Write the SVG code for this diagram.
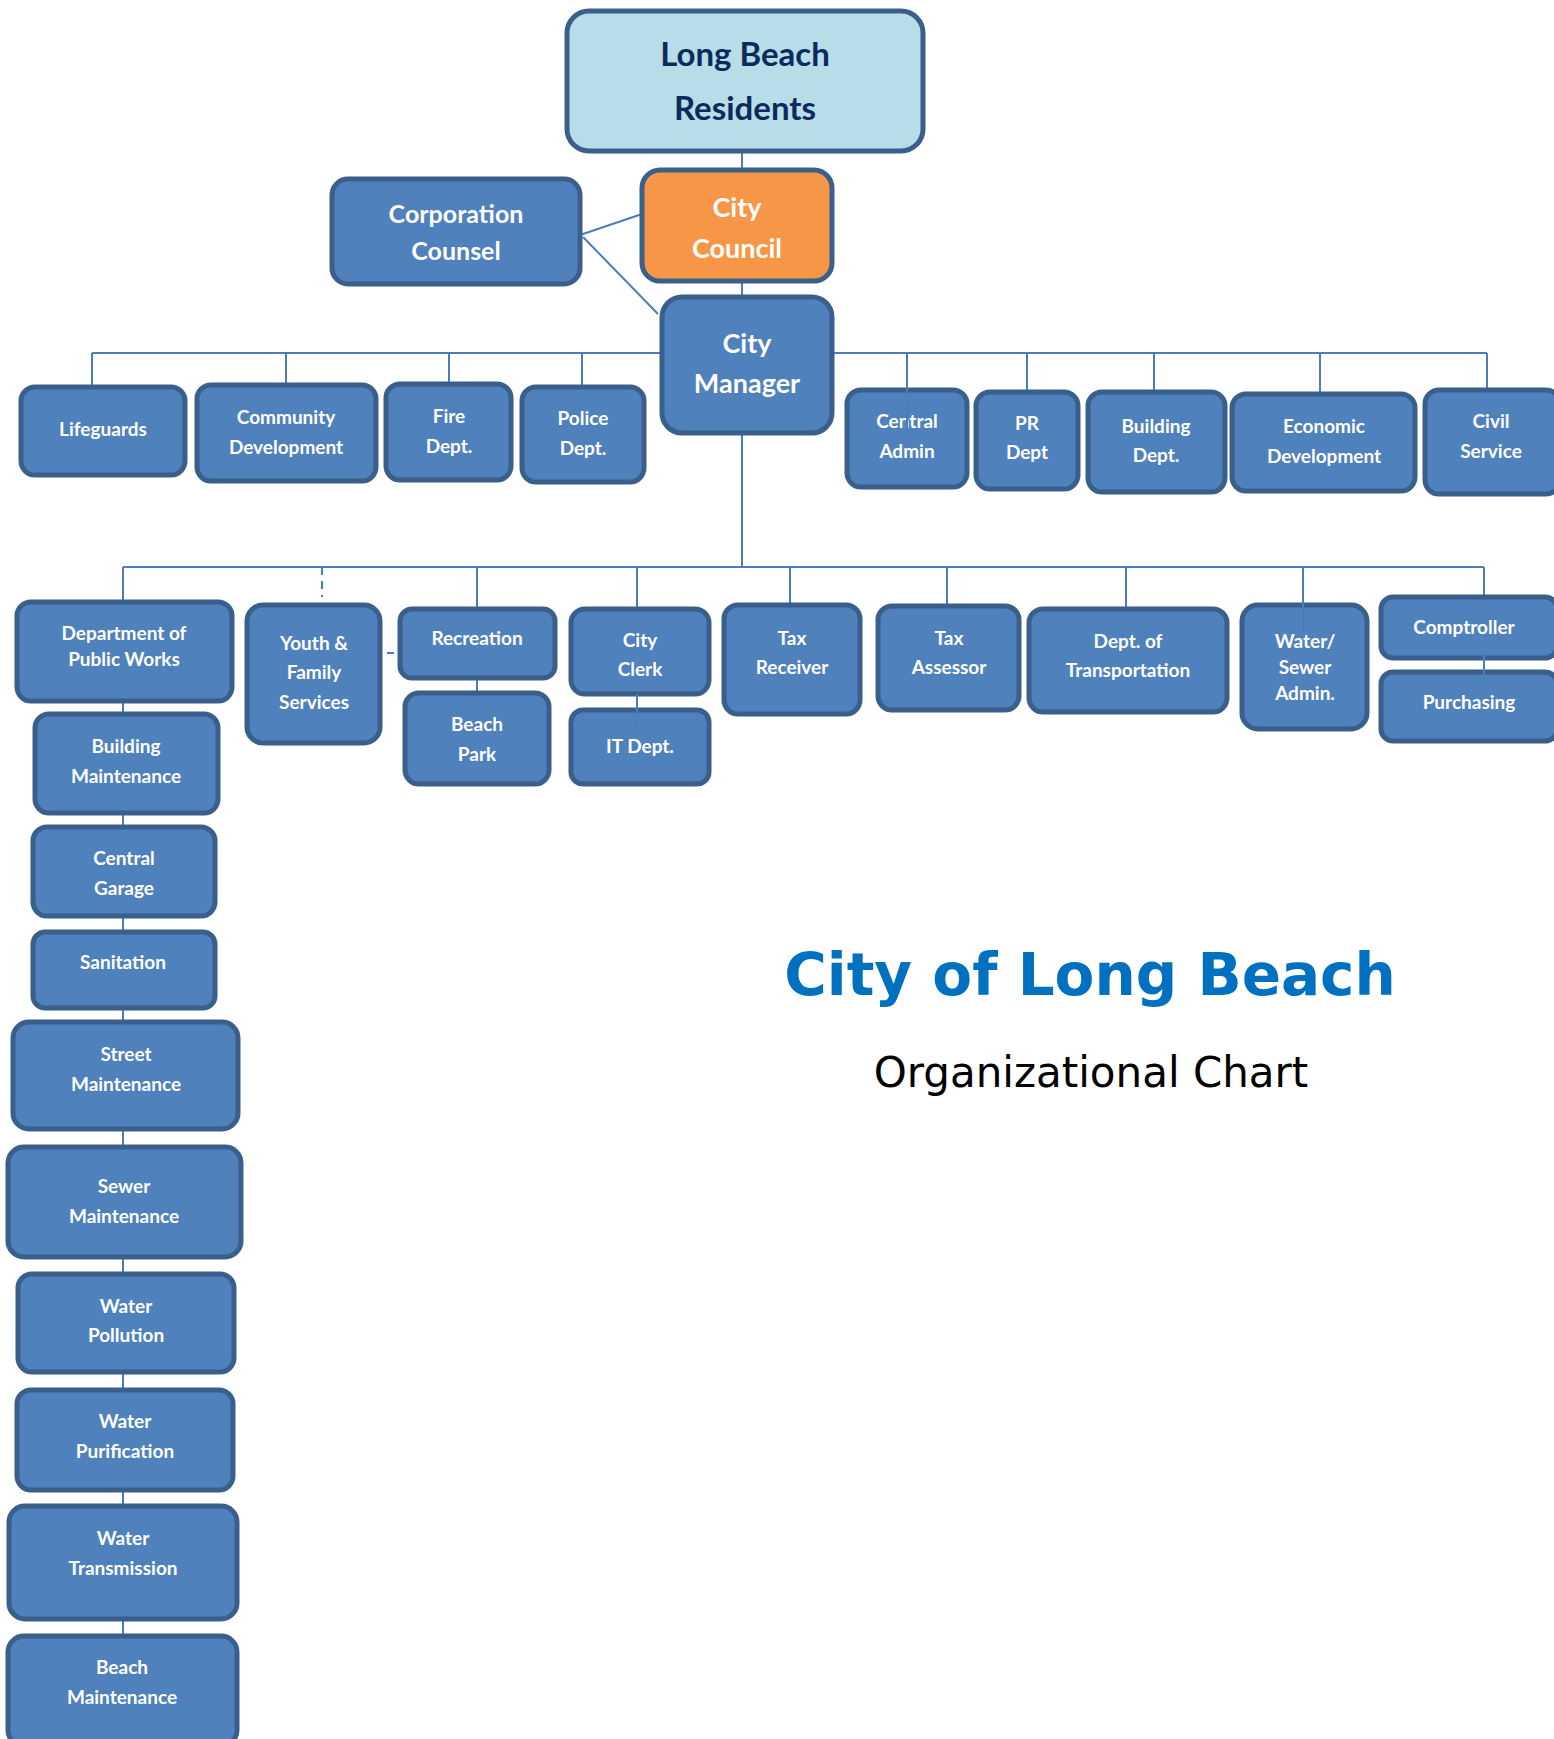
<svg xmlns="http://www.w3.org/2000/svg" width="1554" height="1739" viewBox="0 0 1554 1739">
<style>
.b{fill:#4f81bd;stroke:#3a5f8b;stroke-width:5}
.t{font-family:Lato,"Open Sans","Liberation Sans",sans-serif;font-weight:bold;fill:#ffffff;text-anchor:middle;font-size:19px}
.c{stroke:#4a7ebb;stroke-width:2;fill:none}
</style>
<rect width="1554" height="1739" fill="#ffffff"/>
<g id="connectors" class="c">
<line x1="742" y1="151" x2="742" y2="170"/>
<line x1="742" y1="281" x2="742" y2="297"/>
<line x1="742" y1="433" x2="742" y2="567"/>
<line x1="580" y1="235" x2="642" y2="214"/>
<line x1="583" y1="237" x2="658" y2="314"/>
<line x1="92" y1="353" x2="1487" y2="353"/>
<line x1="92" y1="353" x2="92" y2="387"/>
<line x1="286" y1="353" x2="286" y2="385"/>
<line x1="449" y1="353" x2="449" y2="384"/>
<line x1="582" y1="353" x2="582" y2="387"/>
<line x1="1027" y1="353" x2="1027" y2="392"/>
<line x1="1154" y1="353" x2="1154" y2="392"/>
<line x1="1320" y1="353" x2="1320" y2="394"/>
<line x1="1487" y1="353" x2="1487" y2="390"/>
<line x1="123" y1="567" x2="1484" y2="567"/>
<line x1="123" y1="567" x2="123" y2="602"/>
<line x1="322" y1="567" x2="322" y2="597" stroke-dasharray="8 6"/>
<line x1="387" y1="653" x2="394" y2="653"/>
<line x1="477" y1="567" x2="477" y2="609"/>
<line x1="637" y1="567" x2="637" y2="609"/>
<line x1="790" y1="567" x2="790" y2="605"/>
<line x1="947" y1="567" x2="947" y2="606"/>
<line x1="1126" y1="567" x2="1126" y2="609"/>
<line x1="1484" y1="567" x2="1484" y2="597"/>
<line x1="477" y1="678" x2="477" y2="693"/>
<line x1="123" y1="701" x2="123" y2="1636"/>
</g>
<g id="n-residents"><rect x="567" y="11" width="356" height="140" rx="22" fill="#b7dde8" stroke="#3a5f8b" stroke-width="5"/>
<text class="t" x="745" y="66" style="font-size:33px;fill:#0c2a5c">Long Beach</text><text class="t" x="745" y="120" style="font-size:33px;fill:#0c2a5c">Residents</text></g>
<g id="n-council"><rect x="642" y="170" width="190" height="111" rx="18" fill="#f79646" stroke="#3a5f8b" stroke-width="5"/>
<text class="t" x="737" y="217" style="font-size:27px">City</text><text class="t" x="737" y="258" style="font-size:27px">Council</text></g>
<g id="n-corp"><rect class="b" x="332" y="179" width="248" height="105" rx="16"/>
<text class="t" x="456" y="223" style="font-size:25px">Corporation</text><text class="t" x="456" y="260" style="font-size:25px">Counsel</text></g>
<g id="n-manager"><rect class="b" x="662" y="297" width="170" height="136" rx="20"/>
<text class="t" x="747" y="353" style="font-size:27px">City</text><text class="t" x="747" y="393" style="font-size:27px">Manager</text></g>
<g id="n-lifeguards"><rect class="b" x="21" y="387" width="164" height="88" rx="14"/><text class="t" x="103" y="436">Lifeguards</text></g>
<g id="n-community"><rect class="b" x="197" y="385" width="179" height="96" rx="14"/><text class="t" x="286" y="424">Community</text><text class="t" x="286" y="454">Development</text></g>
<g id="n-fire"><rect class="b" x="386" y="384" width="125" height="96" rx="14"/><text class="t" x="449" y="423">Fire</text><text class="t" x="449" y="453">Dept.</text></g>
<g id="n-police"><rect class="b" x="522" y="387" width="122" height="95" rx="14"/><text class="t" x="583" y="425">Police</text><text class="t" x="583" y="455">Dept.</text></g>
<g id="n-centraladmin"><rect class="b" x="847" y="390" width="120" height="97" rx="14"/><text class="t" x="907" y="428">Central</text><text class="t" x="907" y="458">Admin</text></g>
<g id="n-pr"><rect class="b" x="976" y="392" width="102" height="97" rx="14"/><text class="t" x="1027" y="430">PR</text><text class="t" x="1027" y="459">Dept</text></g>
<g id="n-building"><rect class="b" x="1088" y="392" width="137" height="100" rx="14"/><text class="t" x="1156" y="433">Building</text><text class="t" x="1156" y="462">Dept.</text></g>
<g id="n-economic"><rect class="b" x="1232" y="394" width="183" height="97" rx="14"/><text class="t" x="1324" y="433">Economic</text><text class="t" x="1324" y="463">Development</text></g>
<g id="n-civil"><rect class="b" x="1425" y="390" width="135" height="104" rx="14"/><text class="t" x="1491" y="428">Civil</text><text class="t" x="1491" y="458">Service</text></g>
<g id="n-publicworks"><rect class="b" x="17" y="602" width="215" height="99" rx="14"/><text class="t" x="124" y="640">Department of</text><text class="t" x="124" y="666">Public Works</text></g>
<g id="n-youth"><rect class="b" x="247" y="605" width="133" height="138" rx="16"/><text class="t" x="314" y="650">Youth &amp;</text><text class="t" x="314" y="679">Family</text><text class="t" x="314" y="709">Services</text></g>
<g id="n-recreation"><rect class="b" x="400" y="609" width="155" height="69" rx="12"/><text class="t" x="477" y="645">Recreation</text></g>
<g id="n-beachpark"><rect class="b" x="405" y="693" width="144" height="91" rx="14"/><text class="t" x="477" y="731">Beach</text><text class="t" x="477" y="761">Park</text></g>
<g id="n-clerk"><rect class="b" x="571" y="609" width="138" height="85" rx="14"/><text class="t" x="640" y="647">City</text><text class="t" x="640" y="676">Clerk</text></g>
<g id="n-it"><rect class="b" x="571" y="710" width="138" height="74" rx="12"/><text class="t" x="640" y="753">IT Dept.</text></g>
<g id="n-taxreceiver"><rect class="b" x="724" y="605" width="136" height="109" rx="14"/><text class="t" x="792" y="645">Tax</text><text class="t" x="792" y="674">Receiver</text></g>
<g id="n-taxassessor"><rect class="b" x="878" y="606" width="141" height="104" rx="14"/><text class="t" x="949" y="645">Tax</text><text class="t" x="949" y="674">Assessor</text></g>
<g id="n-transport"><rect class="b" x="1029" y="609" width="198" height="103" rx="14"/><text class="t" x="1128" y="648">Dept. of</text><text class="t" x="1128" y="677">Transportation</text></g>
<g id="n-watersewer"><rect class="b" x="1242" y="605" width="125" height="124" rx="16"/><text class="t" x="1305" y="648">Water/</text><text class="t" x="1305" y="674">Sewer</text><text class="t" x="1305" y="700">Admin.</text></g>
<g id="n-comptroller"><rect class="b" x="1381" y="597" width="176" height="61" rx="12"/><text class="t" x="1464" y="634">Comptroller</text></g>
<g id="n-purchasing"><rect class="b" x="1381" y="672" width="176" height="69" rx="12"/><text class="t" x="1469" y="709">Purchasing</text></g>
<g id="n-bldgmaint"><rect class="b" x="35" y="714" width="183" height="99" rx="14"/><text class="t" x="126" y="753">Building</text><text class="t" x="126" y="783">Maintenance</text></g>
<g id="n-garage"><rect class="b" x="33" y="827" width="182" height="89" rx="14"/><text class="t" x="124" y="865">Central</text><text class="t" x="124" y="895">Garage</text></g>
<g id="n-sanitation"><rect class="b" x="33" y="932" width="182" height="76" rx="12"/><text class="t" x="123" y="969">Sanitation</text></g>
<g id="n-street"><rect class="b" x="13" y="1022" width="225" height="107" rx="16"/><text class="t" x="126" y="1061">Street</text><text class="t" x="126" y="1091">Maintenance</text></g>
<g id="n-sewer"><rect class="b" x="8" y="1147" width="233" height="110" rx="16"/><text class="t" x="124" y="1193">Sewer</text><text class="t" x="124" y="1223">Maintenance</text></g>
<g id="n-pollution"><rect class="b" x="18" y="1274" width="216" height="98" rx="14"/><text class="t" x="126" y="1313">Water</text><text class="t" x="126" y="1342">Pollution</text></g>
<g id="n-purification"><rect class="b" x="17" y="1390" width="216" height="100" rx="14"/><text class="t" x="125" y="1428">Water</text><text class="t" x="125" y="1458">Purification</text></g>
<g id="n-transmission"><rect class="b" x="9" y="1506" width="228" height="113" rx="16"/><text class="t" x="123" y="1545">Water</text><text class="t" x="123" y="1575">Transmission</text></g>
<g id="n-beachmaint"><rect class="b" x="8" y="1636" width="229" height="110" rx="16"/><text class="t" x="122" y="1674">Beach</text><text class="t" x="122" y="1704">Maintenance</text></g>
<g id="connectors-over" class="c">
<line x1="907" y1="353" x2="907" y2="437"/>
<line x1="637" y1="694" x2="637" y2="732"/>
<line x1="1303" y1="567" x2="1303" y2="632"/>
<line x1="1484" y1="652" x2="1484" y2="680"/>
</g>
<g id="title">
<text x="1090" y="995" text-anchor="middle" style="font-family:'DejaVu Sans',Verdana,sans-serif;font-weight:bold;font-size:58px;fill:#0070c0">City of Long Beach</text>
<text x="1091" y="1087" text-anchor="middle" style="font-family:'DejaVu Sans',Verdana,sans-serif;font-size:42px;fill:#000000">Organizational Chart</text>
</g>
</svg>
